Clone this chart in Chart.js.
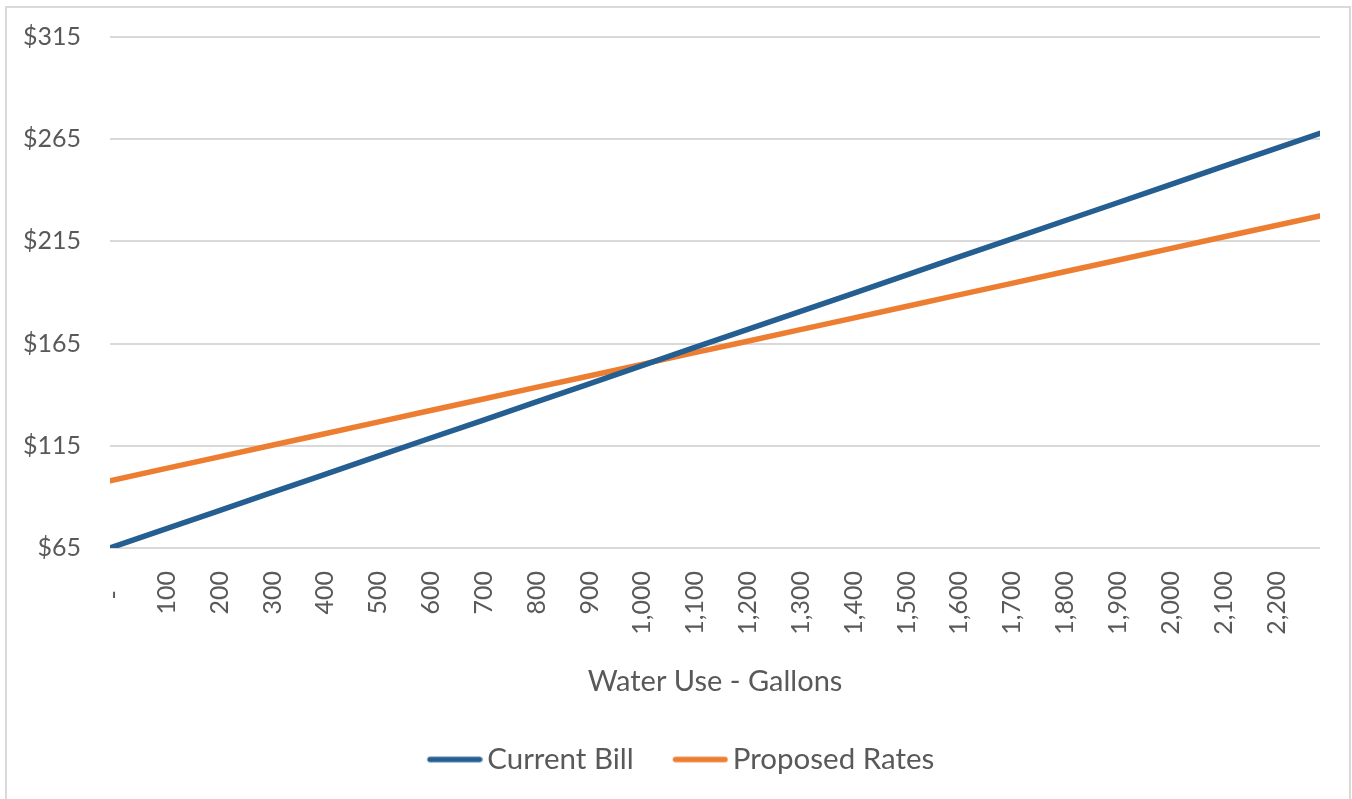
<!DOCTYPE html>
<html>
<head>
<meta charset="utf-8">
<script src="https://cdn.jsdelivr.net/npm/chart.js@4.4.1/dist/chart.umd.min.js"></script>
<style>
  html, body { margin: 0; padding: 0; background: #ffffff; }
  #wrap { position: relative; width: 1352px; height: 799px; overflow: hidden; }
  #frame { position: absolute; left: 5px; top: 6px; width: 1346px; height: 810px;
           border: 2px solid #D9D9D9; box-sizing: border-box; }
  #c { position: absolute; left: 0; top: 0; }
</style>
</head>
<body>
<div id="wrap">
  <div id="frame"></div>
  <canvas id="c" width="1352" height="799"></canvas>
</div>
<script>
// Monthly water use (gallons) and the resulting bill under each rate schedule
const gallons = [0, 100, 200, 300, 400, 500, 600, 700, 800, 900, 1000, 1100,
                 1200, 1300, 1400, 1500, 1600, 1700, 1800, 1900, 2000, 2100, 2200, 2290];
const currentBill = [65.0, 73.9, 82.7, 91.6, 100.4, 109.3, 118.2, 127.0, 135.9, 144.7, 153.6, 162.5,
                     171.3, 180.2, 189.0, 197.9, 206.8, 215.6, 224.5, 233.3, 242.2, 251.1, 259.9, 267.9];
const proposedRates = [97.9, 103.6, 109.2, 114.9, 120.5, 126.2, 131.9, 137.5, 143.2, 148.8, 154.5, 160.2,
                       165.8, 171.5, 177.1, 182.8, 188.5, 194.1, 199.8, 205.4, 211.1, 216.8, 222.4, 227.5];
const seriesNames = ['Current Bill', 'Proposed Rates'];
const seriesColors = ['#255E91', '#ED7D31'];
const xAxisTitle = 'Water Use - Gallons';
const xTickValues = [0, 100, 200, 300, 400, 500, 600, 700, 800, 900, 1000, 1100,
                     1200, 1300, 1400, 1500, 1600, 1700, 1800, 1900, 2000, 2100, 2200];
const yTickValues = [65, 115, 165, 215, 265, 315];

const FONT = 'Lato, "Open Sans", sans-serif';
const TEXT = '#595959';
const LEGEND_SIZE = 29.5;
const LINE_WIDTH = 5.5;

// Legend swatch: a short thick line placed toward the right of a small canvas,
// so it sits just before its label text.
function legendSwatch(color) {
  const c = document.createElement('canvas');
  c.width = 75;
  c.height = 10;
  const g = c.getContext('2d');
  g.strokeStyle = color;
  g.lineWidth = LINE_WIDTH;
  g.lineCap = 'round';
  g.beginPath();
  g.moveTo(22.4, 5);
  g.lineTo(71.9, 5);
  g.stroke();
  return c;
}

function points(values) {
  return gallons.map((g, i) => ({ x: g, y: values[i] }));
}

function lineSeries(label, values, color) {
  return {
    label: label,
    data: points(values),
    borderColor: color,
    backgroundColor: color,
    borderWidth: LINE_WIDTH,
    pointRadius: 0,
    pointHoverRadius: 0,
    pointStyle: legendSwatch(color),
    borderCapStyle: 'round',
    borderJoinStyle: 'round',
    tension: 0
  };
}

new Chart(document.getElementById('c'), {
  type: 'line',
  data: {
    datasets: [
      lineSeries(seriesNames[0], currentBill, seriesColors[0]),
      lineSeries(seriesNames[1], proposedRates, seriesColors[1])
    ]
  },
  options: {
    responsive: false,
    animation: false,
    layout: { autoPadding: false, padding: { left: 0, right: 0, top: 37, bottom: 14.75 } },
    scales: {
      x: {
        type: 'linear',
        min: gallons[0],
        max: gallons[gallons.length - 1],
        grid: { display: false, drawTicks: false },
        border: { display: false },
        afterBuildTicks: s => { s.ticks = xTickValues.map(v => ({ value: v })); },
        ticks: {
          autoSkip: false,
          minRotation: 90,
          maxRotation: 90,
          padding: 23,
          labelOffset: 4,
          color: TEXT,
          font: { family: FONT, size: 25 },
          callback: v => v === 0 ? '-   ' : v.toLocaleString('en-US')
        },
        title: {
          display: true,
          text: xAxisTitle,
          color: TEXT,
          font: { family: FONT, size: 29 },
          padding: { top: 0, bottom: 16 }
        },
        afterFit: s => { s.height = 167.25; }
      },
      y: {
        min: yTickValues[0],
        max: yTickValues[yTickValues.length - 1],
        grid: { color: '#D9D9D9', lineWidth: 2, drawTicks: true, tickLength: 29, tickColor: 'rgba(0,0,0,0)' },
        border: { display: false },
        afterBuildTicks: s => { s.ticks = yTickValues.map(v => ({ value: v })); },
        ticks: {
          padding: 0,
          color: TEXT,
          font: { family: FONT, size: 25 },
          callback: v => '$' + v
        },
        afterFit: s => { s.width = 110; }
      },
      // empty right-hand margin beside the plot
      yRight: {
        position: 'right',
        grid: { display: false, drawTicks: false },
        border: { display: false },
        ticks: { display: false },
        afterFit: s => { s.width = 32; }
      }
    },
    plugins: {
      legend: {
        position: 'bottom',
        labels: {
          usePointStyle: true,
          pointStyleWidth: 54.75,
          boxHeight: LEGEND_SIZE,
          padding: 29.5,
          color: TEXT,
          font: { family: FONT, size: LEGEND_SIZE }
        }
      },
      tooltip: { enabled: false }
    }
  }
});
</script>
</body>
</html>
